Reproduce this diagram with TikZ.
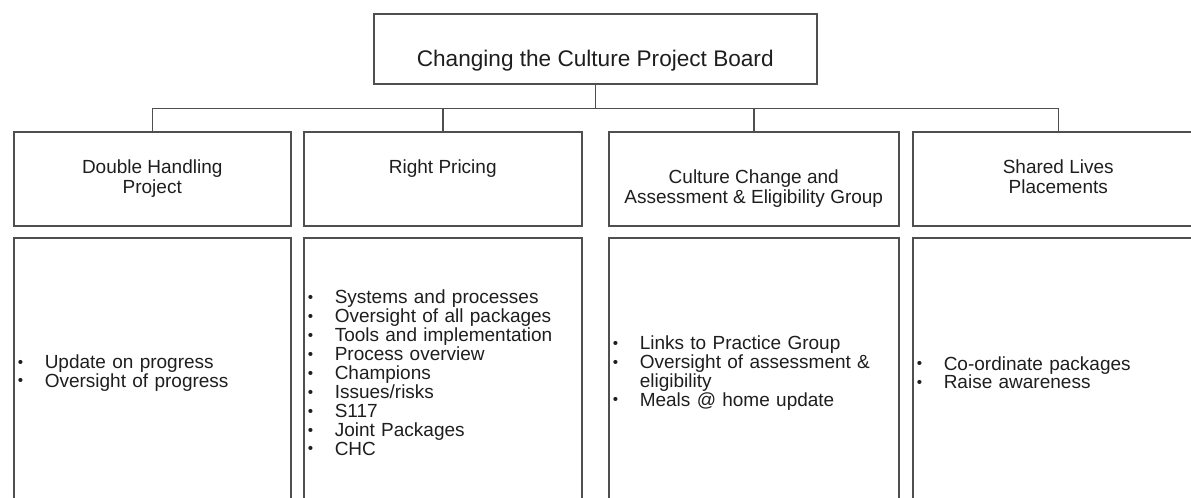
\documentclass[tikz,border=0pt]{standalone}
\usepackage{fontspec}
\setmainfont{Liberation Sans}
\usepackage{tikz}
\usetikzlibrary{positioning}
\definecolor{linegrey}{HTML}{4F4F4F}
\definecolor{textgrey}{HTML}{1E1E1E}
\newcommand{\itm}[1]{\makebox[13.5pt][l]{\raisebox{0.6pt}{\scalebox{0.8}{\textbullet}}}#1}

\begin{document}
\begin{tikzpicture}[x=0.5pt,y=-0.5pt,every node/.style={draw=linegrey,line width=0.75pt,text=textgrey,inner sep=0pt},
  boardbox/.style={align=center,font=\fontsize{11.3}{13}\selectfont,minimum width=221.5pt,text height=26.5pt,text depth=8.5pt},
  groupbox/.style={anchor=north west,align=center,font=\fontsize{9.5}{10}\selectfont,text height=31pt,text depth=16pt},
  listbox/.style={anchor=north west,align=left,font=\fontsize{9.5}{9.45}\selectfont,minimum height=135pt,inner xsep=2pt}]
\useasboundingbox (0,0) rectangle (1191,498);
\clip (0,0) rectangle (1191,498);
\node[boardbox,anchor=north west] (board) at (373,13) {Changing the Culture Project Board};
\node[groupbox,minimum width=138.5pt] (g1) at (13,131) {Double Handling\\Project};
\node[groupbox,minimum width=139pt,text height=21pt,text depth=26pt] (g2) at (303,131) {Right Pricing};
\node[groupbox,minimum width=145pt,text height=36pt,text depth=11pt] (g3) at (608,131) {Culture Change and\\Assessment \& Eligibility Group};
\node[groupbox,minimum width=145.5pt] (g4) at (912,131) {Shared Lives\\Placements};
\node[listbox,text width=134.5pt] (l1) at (13,237) {\itm{Update on progress}\\\itm{Oversight of progress}};
\node[listbox,text width=135pt] (l2) at (303,237) {\itm{Systems and processes}\\\itm{Oversight of all packages}\\\itm{Tools and implementation}\\\itm{Process overview}\\\itm{Champions}\\\itm{Issues/risks}\\\itm{S117}\\\itm{Joint Packages}\\\itm{CHC}};
\node[listbox,text width=141pt] (l3) at (608,237) {\itm{Links to Practice Group}\\\itm{Oversight of assessment \&}\\\hspace*{13.5pt}eligibility\\\itm{Meals @ home update}};
\node[listbox,text width=141.5pt] (l4) at (912,237) {\itm{Co-ordinate packages}\\\itm{Raise awareness}};
% tree lines
\path (board.south) ++(0,24) coordinate (bus);
\draw[linegrey,line width=0.75pt] (board.south) -- (bus);
\foreach \g in {g1,g2,g3,g4} \draw[linegrey,line width=0.75pt] (bus) -| (\g.north);
\end{tikzpicture}
\end{document}
